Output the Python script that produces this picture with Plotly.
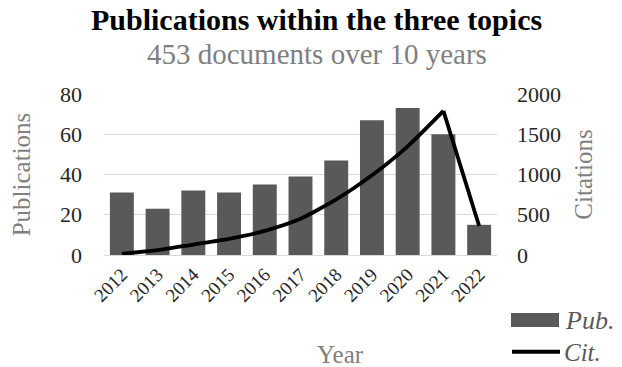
import plotly.graph_objects as go

# Publication and citation counts per year
years = ["2012", "2013", "2014", "2015", "2016", "2017", "2018", "2019", "2020", "2021", "2022"]
publications = [31, 23, 32, 31, 35, 39, 47, 67, 73, 60, 15]
citations = [15, 60, 130, 200, 300, 450, 690, 990, 1350, 1790, 360]

left_ticks = [0, 20, 40, 60, 80]
right_ticks = [0, 500, 1000, 1500, 2000]

FONT = "Liberation Serif, Times New Roman, serif"
BAR_COLOR = "#595959"
GRID = "#d9d9d9"
TEXT_GREY = "#7f7f7f"

fig = go.Figure()

fig.add_trace(go.Bar(
    x=years, y=publications, name="Pub.",
    marker=dict(color=BAR_COLOR, line=dict(width=0)),
    yaxis="y", showlegend=False,
))

# Citation curve: smoothed through the rising years, straight drop into the last year
fig.add_trace(go.Scatter(
    x=years[:-1], y=citations[:-1], name="Cit.",
    mode="lines", line=dict(color="black", width=3.8, shape="spline", smoothing=0.6),
    yaxis="y2", showlegend=False,
))
fig.add_trace(go.Scatter(
    x=years[-2:], y=citations[-2:], name="Cit.",
    mode="lines", line=dict(color="black", width=3.8),
    yaxis="y2", showlegend=False,
))

fig.update_layout(
    width=622, height=367,
    margin=dict(l=104, r=125, t=94, b=112),
    paper_bgcolor="white", plot_bgcolor="white",
    font=dict(family=FONT, size=22, color="#262626"),
    bargap=0.33,
    xaxis=dict(
        type="category", tickangle=-45, showgrid=False,
        showline=True, linecolor=GRID, linewidth=1,
        ticks="", tickfont=dict(size=19, color="#262626"),
    ),
    yaxis=dict(
        range=[0, 80], tickvals=left_ticks, showgrid=True, gridcolor=GRID,
        gridwidth=1, zeroline=False, ticks="", tickfont=dict(size=22),
        ticklabelstandoff=21,
        title=dict(text="Publications", font=dict(size=25, color=TEXT_GREY), standoff=22),
    ),
    yaxis2=dict(
        range=[0, 2000], tickvals=right_ticks, overlaying="y", side="right",
        showgrid=False, zeroline=False, ticks="", tickfont=dict(size=22),
        ticklabelstandoff=19,
        title=dict(text="Citations", font=dict(size=25, color=TEXT_GREY), standoff=14),
    ),
)

# Title, subtitle and x-axis title
fig.add_annotation(text="<b>Publications within the three topics</b>", xref="paper", yref="paper",
                   x=0.5, y=1.0, yshift=75, xshift=16, xanchor="center", yanchor="middle",
                   showarrow=False, font=dict(size=30, color="black"))
fig.add_annotation(text="453 documents over 10 years", xref="paper", yref="paper",
                   x=0.5, y=1.0, yshift=40, xshift=16, xanchor="center", yanchor="middle",
                   showarrow=False, font=dict(size=29, color=TEXT_GREY))
fig.add_annotation(text="Year", xref="paper", yref="paper",
                   x=0.5, y=0, yshift=-99, xshift=40, xanchor="center", yanchor="middle",
                   showarrow=False, font=dict(size=25, color=TEXT_GREY))

# Legend drawn at the bottom right
fig.add_shape(type="rect", xref="paper", yref="paper", xsizemode="pixel", ysizemode="pixel",
              xanchor=1.0, yanchor=0.0, x0=14, x1=62, y0=-58, y1=-72,
              fillcolor=BAR_COLOR, line=dict(width=0))
fig.add_shape(type="line", xref="paper", yref="paper", xsizemode="pixel", ysizemode="pixel",
              xanchor=1.0, yanchor=0.0, x0=15, x1=63, y0=-96.7, y1=-96.7,
              line=dict(color="black", width=4))
fig.add_annotation(text="<i>Pub.</i>", xref="paper", yref="paper", x=1.0, y=0,
                   xshift=66, yshift=-65, xanchor="left", yanchor="middle",
                   showarrow=False, font=dict(size=26, color="#595959"))
fig.add_annotation(text="<i>Cit.</i>", xref="paper", yref="paper", x=1.0, y=0,
                   xshift=66, yshift=-97, xanchor="left", yanchor="middle", borderpad=0,
                   showarrow=False, font=dict(size=25, color="#595959"))

fig.write_html("out.html")
